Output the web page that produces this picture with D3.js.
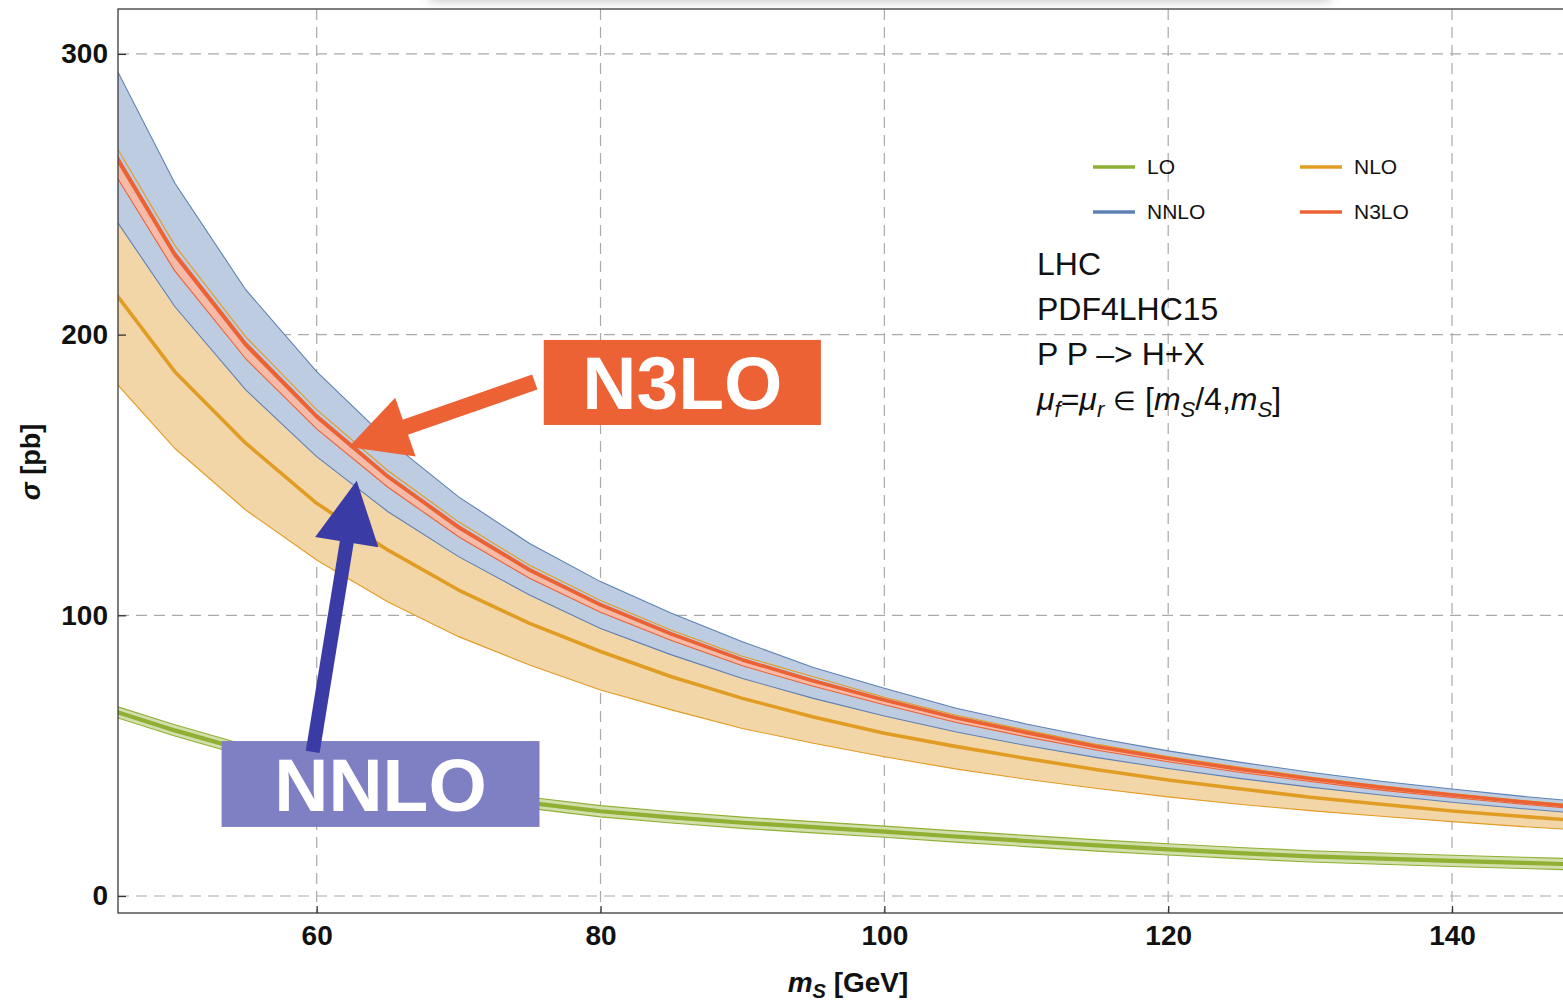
<!DOCTYPE html>
<html>
<head>
<meta charset="utf-8">
<script src="https://cdn.jsdelivr.net/npm/d3@7"></script>
<style>
    body { margin: 0; background: #fff; }
    svg text { font-family: "Liberation Sans", Arial, sans-serif; }
</style>
</head>
<body>
<div id="chart-area"></div>
<script>

// scalar mass points (GeV)
var massPoints = [45, 50, 55, 60, 65, 70, 75, 80, 85, 90, 95, 100, 105, 110, 115, 120, 125, 130, 135, 140, 145, 150];

// cross sections in pb
var loMid   = [67, 59, 51.8, 45.8, 41, 36.8, 33.2, 30.2, 28.0, 26.1, 24.5, 22.9, 21.2, 19.6, 18.0, 16.6, 15.3, 14.1, 13.3, 12.5, 11.8, 11.1];
var loHi    = [69, 61, 53.8, 47.8, 43, 38.8, 35.2, 32.2, 30.0, 28.1, 26.5, 24.9, 23.2, 21.6, 20.0, 18.6, 17.3, 16.1, 15.3, 14.5, 13.8, 13.1];
var loLo    = [65, 57, 49.8, 43.8, 39, 34.8, 31.2, 28.2, 26.0, 24.1, 22.5, 20.9, 19.2, 17.6, 16.0, 14.6, 13.3, 12.1, 11.3, 10.5, 9.8, 9.1];

var nloMid  = [220.2, 186.8, 161.3, 139.9, 123.3, 109, 97.1, 87.1, 78.1, 70.4, 63.8, 58, 53.3, 49, 45, 41.3, 38.2, 35.2, 32.7, 30.3, 28.3, 26.4];
var nloHi   = [274.5, 231.8, 199.2, 173.3, 151.6, 133.3, 117.8, 105.3, 94.7, 85.4, 78.1, 70.8, 64.5, 59.1, 54.0, 49.7, 45.9, 42.4, 39.3, 36.5, 34.0, 31.8];
var nloLo   = [187.6, 159.5, 137.5, 119.7, 104.8, 92.4, 82.3, 73.4, 66.3, 59.7, 54.4, 49.6, 45.3, 41.6, 38.3, 35.3, 32.7, 30.4, 28.4, 26.5, 24.7, 23.2];

var nnloHi  = [303.4, 254, 216, 186.8, 162.5, 142.2, 125.6, 112, 100.7, 90.6, 81.4, 74, 67, 61.3, 56.2, 51.7, 47.7, 44.1, 40.9, 38.1, 35.5, 33.2];
var nnloLo  = [247.2, 210, 180.3, 156.5, 137, 120.9, 107.2, 95.3, 85.9, 77.5, 70.4, 64.1, 58.5, 53.6, 49.3, 45.4, 41.9, 38.8, 36, 33.4, 31.1, 29];

var n3loMid = [270.4, 228.4, 196.3, 170.7, 149.4, 131.3, 116.1, 103.7, 93.3, 84.1, 76.6, 69.8, 63.5, 58.2, 53.2, 49.0, 45.2, 41.8, 38.7, 36.0, 33.5, 31.3];
var n3loHi  = [271.8, 229.5, 197.3, 171.6, 150.1, 132.0, 116.7, 104.2, 93.8, 84.5, 77.0, 70.1, 63.8, 58.5, 53.5, 49.2, 45.4, 42.0, 38.9, 36.2, 33.7, 31.5];
var n3loLo  = [263.6, 222.7, 191.4, 166.4, 145.7, 128.0, 113.2, 101.1, 91.0, 82.0, 74.7, 68.1, 61.9, 56.7, 51.9, 47.8, 44.1, 40.8, 37.7, 35.1, 32.7, 30.5];

// axis ticks
var xTicks = [60, 80, 100, 120, 140];
var yTicks = [0, 100, 200, 300];

var legendNames = ["LO", "NLO", "NNLO", "N3LO"];
var infoLines = ["LHC", "PDF4LHC15", "P P \u2013> H+X"];


/*
 * XsecVis - Object constructor function
 * @param _parentElement 	-- the HTML element in which to draw the visualization
 */
XsecVis = function(_parentElement) {
    this.parentElement = _parentElement;
    this.initVis();
}

XsecVis.prototype.initVis = function() {
    var vis = this;

    vis.margin = {top: 9, right: 0, bottom: 94, left: 118};
    vis.width = 1563 - vis.margin.left - vis.margin.right;
    vis.height = 1007 - vis.margin.top - vis.margin.bottom;

    vis.svgRoot = d3.select("#" + vis.parentElement).append("svg")
        .attr("width", 1563)
        .attr("height", 1007);

    // faint shadow along the top edge (screenshot artefact)
    var defs = vis.svgRoot.append("defs");
    defs.append("filter").attr("id", "blur")
        .attr("x", "-20%").attr("y", "-200%").attr("width", "140%").attr("height", "500%")
        .append("feGaussianBlur").attr("stdDeviation", 6);
    defs.append("clipPath").attr("id", "plot-clip")
        .append("rect")
        .attr("width", vis.width)
        .attr("height", vis.height);

    vis.svg = vis.svgRoot.append("g")
        .attr("transform", "translate(" + vis.margin.left + "," + vis.margin.top + ")");

    vis.x = d3.scaleLinear()
        .domain([46, 147.82])
        .range([0, vis.width]);

    vis.y = d3.scaleLinear()
        .domain([-6.06, 316.0])
        .range([vis.height, 0]);

    vis.wrangleData();
}

XsecVis.prototype.wrangleData = function() {
    var vis = this;

    function rows(hi, mid, lo) {
        return massPoints.map(function(m, i) {
            return {m: m, hi: hi[i], mid: mid ? mid[i] : null, lo: lo[i]};
        });
    }

    vis.series = [
        {name: "LO",   color: "#8FB032", fill: "#D2DFAD", data: rows(loHi, loMid, loLo)},
        {name: "NLO",  color: "#E19C24", fill: "#F3D6A7", data: rows(nloHi, nloMid, nloLo)},
        {name: "NNLO", color: "#5E81B5", fill: "#BECCE1", data: rows(nnloHi, null, nnloLo)},
        {name: "N3LO", color: "#EB6235", fill: "#F6BBA8", data: rows(n3loHi, n3loMid, n3loLo)}
    ];

    vis.updateVis();
}

XsecVis.prototype.updateVis = function() {
    var vis = this;

    vis.svgRoot.insert("rect", "g")
        .attr("x", 430).attr("y", -16)
        .attr("width", 900).attr("height", 16)
        .attr("fill", "#000").attr("opacity", 0.28)
        .attr("filter", "url(#blur)");

    // grid
    vis.svg.append("g").selectAll("line.vgrid")
        .data(xTicks).enter().append("line")
        .attr("x1", function(d) { return vis.x(d); })
        .attr("x2", function(d) { return vis.x(d); })
        .attr("y1", 0).attr("y2", vis.height)
        .attr("stroke", "#aaa").attr("stroke-width", 1.2)
        .attr("stroke-dasharray", "11,7");

    vis.svg.append("g").selectAll("line.hgrid")
        .data(yTicks).enter().append("line")
        .attr("x1", 0).attr("x2", vis.width)
        .attr("y1", function(d) { return vis.y(d); })
        .attr("y2", function(d) { return vis.y(d); })
        .attr("stroke", "#aaa").attr("stroke-width", 1.2)
        .attr("stroke-dasharray", "11,7");

    var plot = vis.svg.append("g").attr("clip-path", "url(#plot-clip)");

    var area = d3.area()
        .x(function(d) { return vis.x(d.m); })
        .y0(function(d) { return vis.y(d.lo); })
        .y1(function(d) { return vis.y(d.hi); });

    function line(key) {
        return d3.line()
            .x(function(d) { return vis.x(d.m); })
            .y(function(d) { return vis.y(d[key]); });
    }

    // band fills first
    plot.selectAll(".band")
        .data(vis.series).enter().append("path")
        .attr("class", "band")
        .attr("d", function(d) { return area(d.data); })
        .attr("fill", function(d) { return d.fill; });

    // band edges
    ["hi", "lo"].forEach(function(key) {
        plot.selectAll(".edge-" + key)
            .data(vis.series).enter().append("path")
            .attr("d", function(d) { return line(key)(d.data); })
            .attr("fill", "none")
            .attr("stroke", function(d) { return d.color; })
            .attr("stroke-width", 1.1);
    });

    // central curves
    plot.selectAll(".central")
        .data(vis.series.filter(function(s) { return s.data[0].mid !== null; }))
        .enter().append("path")
        .attr("d", function(d) { return line("mid")(d.data); })
        .attr("fill", "none")
        .attr("stroke", function(d) { return d.color; })
        .attr("stroke-width", function(d) { return d.name === "LO" ? 4.2 : 3.6; })
        .attr("stroke-linejoin", "round");

    // frame
    vis.svg.append("rect")
        .attr("width", vis.width + 2).attr("height", vis.height)
        .attr("fill", "none").attr("stroke", "#3a3a3a").attr("stroke-width", 1.3);

    // axes
    var xAxis = d3.axisBottom(vis.x).tickValues(xTicks).tickSize(-7).tickPadding(12);
    var yAxis = d3.axisLeft(vis.y).tickValues(yTicks).tickSize(-8).tickPadding(10);

    var gx = vis.svg.append("g")
        .attr("transform", "translate(0," + vis.height + ")")
        .call(xAxis);
    var gy = vis.svg.append("g").call(yAxis);

    [gx, gy].forEach(function(g) {
        g.select(".domain").remove();
        g.selectAll(".tick line").attr("stroke", "#333").attr("stroke-width", 1.3);
        g.selectAll("text")
            .attr("fill", "#111")
            .style("font-size", "28px")
            .style("font-weight", "bold");
    });
    gx.selectAll("text").attr("dy", "0.72em");

    // axis titles
    var xt = vis.svgRoot.append("text")
        .attr("x", 848).attr("y", 992)
        .attr("text-anchor", "middle")
        .style("font-size", "28px").style("font-weight", "bold").attr("fill", "#111");
    xt.append("tspan").style("font-style", "italic").text("m");
    xt.append("tspan").style("font-style", "italic").style("font-size", "20px").attr("dy", 6).text("S");
    xt.append("tspan").attr("dy", -6).text(" [GeV]");

    var yt = vis.svgRoot.append("text")
        .attr("transform", "translate(40,462) rotate(-90)")
        .attr("text-anchor", "middle")
        .style("font-size", "27px").style("font-weight", "bold").attr("fill", "#111");
    yt.append("tspan").style("font-style", "italic").text("\u03C3");
    yt.append("tspan").text(" [pb]");

    vis.drawLegend();
    vis.drawInfo();
    vis.drawCallouts();
}

XsecVis.prototype.drawLegend = function() {
    var vis = this;

    var colors = {};
    vis.series.forEach(function(s) { colors[s.name] = s.color; });

    var legend = vis.svgRoot.append("g").attr("transform", "translate(1093,167)");

    var item = legend.selectAll(".legend-item")
        .data(legendNames).enter().append("g")
        .attr("transform", function(d, i) {
            return "translate(" + ((i % 2) * 207) + "," + (Math.floor(i / 2) * 45) + ")";
        });

    item.append("line")
        .attr("x1", 0).attr("x2", 42)
        .attr("stroke", function(d) { return colors[d]; })
        .attr("stroke-width", 3.5);

    item.append("text")
        .attr("x", 54).attr("y", 7)
        .style("font-size", "21px").attr("fill", "#111")
        .text(function(d) { return d; });
}

XsecVis.prototype.drawInfo = function() {
    var vis = this;

    var info = vis.svgRoot.append("g").attr("transform", "translate(1037,275)");

    info.selectAll("text.info")
        .data(infoLines).enter().append("text")
        .attr("y", function(d, i) { return i * 45; })
        .style("font-size", "32px").attr("fill", "#111")
        .text(function(d) { return d; });

    var mu = info.append("text").attr("y", 135)
        .style("font-size", "32px").attr("fill", "#111");
    var sub = function(t) {
        mu.append("tspan").style("font-style", "italic").style("font-size", "22px").attr("dy", 7).text(t);
    };
    mu.append("tspan").style("font-style", "italic").text("\u03BC");
    sub("f");
    mu.append("tspan").attr("dy", -7).text("=");
    mu.append("tspan").style("font-style", "italic").text("\u03BC");
    sub("r");
    mu.append("tspan").attr("dy", -7).text(" ");
    mu.append("tspan").style("font-size", "26px").text("\u2208");
    mu.append("tspan").text(" [");
    mu.append("tspan").style("font-style", "italic").text("m");
    sub("S");
    mu.append("tspan").attr("dy", -7).text("/4,");
    mu.append("tspan").style("font-style", "italic").text("m");
    sub("S");
    mu.append("tspan").attr("dy", -7).text("]");
}

XsecVis.prototype.drawCallouts = function() {
    var vis = this;

    var callouts = [
        {label: "N3LO", box: [76.0, 95.53, 198.1, 167.8], fill: "#EC6235",
         tail: [75.37, 183.1], tip: [62.26, 160.0], arrow: "#EC6235", shaft: 16, head: 60, half: 31},
        {label: "NNLO", box: [53.3, 75.7, 55.2, 24.6], fill: "#7F7FC4",
         tail: [59.72, 51.3], tip: [62.82, 147.9], arrow: "#3B3BA5", shaft: 14, head: 62, half: 32}
    ];

    callouts.forEach(function(c) {
        var g = vis.svg.append("g");
        var x0 = vis.x(c.box[0]), x1 = vis.x(c.box[1]);
        var y0 = vis.y(c.box[2]), y1 = vis.y(c.box[3]);

        g.append("rect")
            .attr("x", x0).attr("y", y0)
            .attr("width", x1 - x0).attr("height", y1 - y0)
            .attr("fill", c.fill);

        g.append("text")
            .attr("x", (x0 + x1) / 2).attr("y", (y0 + y1) / 2 + 27)
            .attr("text-anchor", "middle")
            .style("font-size", "75px").style("font-weight", "bold")
            .attr("fill", "#fff")
            .text(c.label);

        // arrow
        var tx = vis.x(c.tail[0]), ty = vis.y(c.tail[1]);
        var px = vis.x(c.tip[0]), py = vis.y(c.tip[1]);
        var len = Math.sqrt((px - tx) * (px - tx) + (py - ty) * (py - ty));
        var ux = (px - tx) / len, uy = (py - ty) / len;
        var bx = px - ux * c.head, by = py - uy * c.head;

        g.append("line")
            .attr("x1", tx).attr("y1", ty)
            .attr("x2", bx + ux * 4).attr("y2", by + uy * 4)
            .attr("stroke", c.arrow).attr("stroke-width", c.shaft);

        g.append("polygon")
            .attr("points", [
                [px, py],
                [bx - uy * c.half, by + ux * c.half],
                [bx + uy * c.half, by - ux * c.half]
            ].map(function(p) { return p.join(","); }).join(" "))
            .attr("fill", c.arrow);
    });
}

var xsecVis = new XsecVis("chart-area");

</script>
</body>
</html>
